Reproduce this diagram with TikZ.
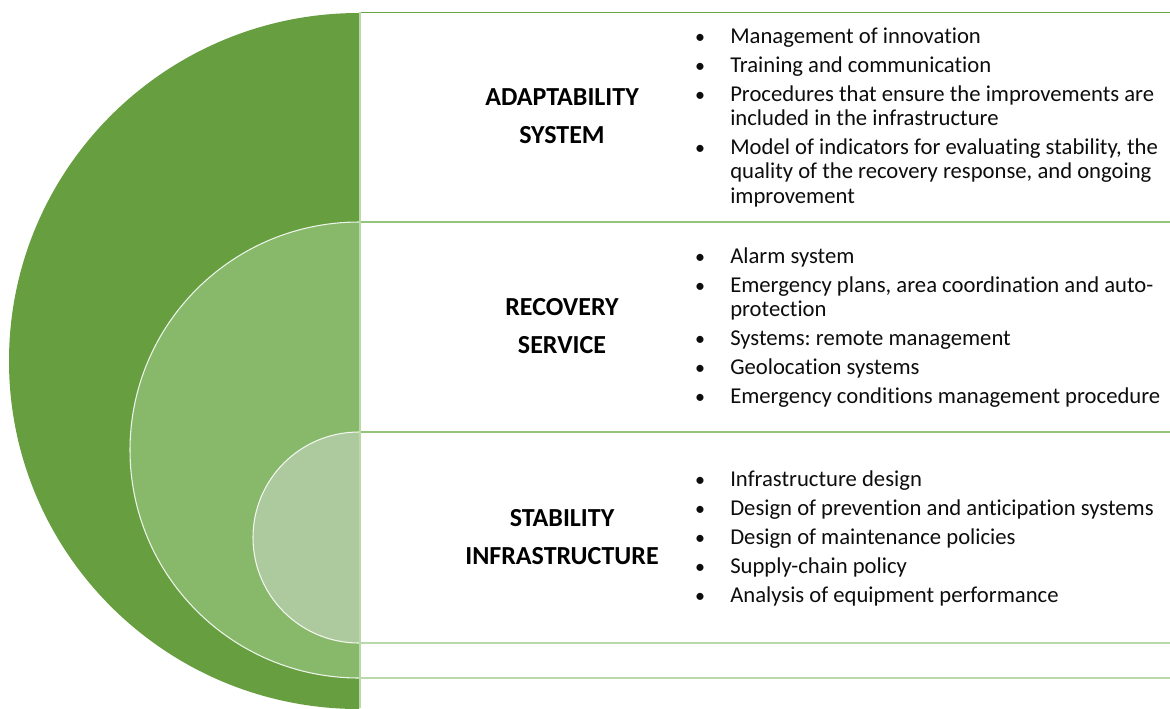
\documentclass[tikz,border=0pt]{standalone}
\usepackage{fontspec}
\setmainfont{Carlito}[Ligatures=CommonOff]
\frenchspacing
\definecolor{gOuter}{HTML}{669E40}
\definecolor{gMid}{HTML}{88B96B}
\definecolor{gSmall}{HTML}{ADC99E}
\definecolor{lTop}{HTML}{6CA545}
\definecolor{lMid}{HTML}{93C47A}
\definecolor{lLight}{HTML}{B9D9A8}
\definecolor{txt}{HTML}{0D0D0D}
\tikzset{
  itemtext/.style={anchor=base west, inner sep=0pt, font=\fontsize{17}{20}\selectfont\frenchspacing, text=txt},
  bul/.style={anchor=base, inner sep=0pt, font=\fontsize{15}{18}\selectfont, text=txt},
  head/.style={anchor=base, inner sep=0pt, font=\fontsize{19.5}{22}\selectfont\bfseries, text=black},
  sepline/.style={line width=1.4pt},
}
\begin{document}
\begin{tikzpicture}[x=0.75pt,y=-0.75pt]
\useasboundingbox (0,0) rectangle (1170,708);
\fill[white] (0,0) rectangle (1170,708);
% half circles
\begin{scope}
\clip (0,0) rectangle (359,708);
\fill[gOuter] (359,361) ellipse [x radius=350, y radius=348];
\filldraw[fill=gMid, draw=white!85!gMid, line width=0.8pt] (359,450) ellipse [x radius=229, y radius=228];
\filldraw[fill=gSmall, draw=white!85!gSmall, line width=0.8pt] (359,537.5) ellipse [x radius=106, y radius=105.5];
\end{scope}
% separator lines
\draw[sepline, lTop] (359,12.5) -- (1170,12.5);
\draw[sepline, lMid] (359,222) -- (1170,222);
\draw[sepline, lMid] (359,432) -- (1170,432);
\draw[sepline, lLight] (359,643) -- (1170,643);
\draw[sepline, lLight] (359,678) -- (1170,678);
\draw[line width=1.5pt, lLight] (359.5,12) -- (359.5,708);
% headers
\node[head] (h1a) at (562,105.5) {ADAPTABILITY};
\node[head] (h1b) at (562,143.5) {SYSTEM};
\node[head] (h2a) at (562,315.5) {RECOVERY};
\node[head] (h2b) at (562,353.5) {SERVICE};
\node[head] (h3a) at (562,526.5) {STABILITY};
\node[head] (h3b) at (562,564.5) {INFRASTRUCTURE};
% panel 1
\node[bul] (b11) at (700,43) {\textbullet};
\node[itemtext] (t11) at (730,43) {Management of innovation};
\node[bul] (b12) at (700,72) {\textbullet};
\node[itemtext] (t12) at (730,72) {Training and communication};
\node[bul] (b13) at (700,101) {\textbullet};
\node[itemtext] (t13) at (730,101) {Procedures that ensure the improvements are};
\node[itemtext] (t13b) at (730,125.5) {included in the infrastructure};
\node[bul] (b14) at (700,154) {\textbullet};
\node[itemtext] (t14) at (730,154) {Model of indicators for evaluating stability, the};
\node[itemtext] (t14b) at (730,178.5) {quality of the recovery response, and ongoing};
\node[itemtext] (t14c) at (730,203) {improvement};
% panel 2
\node[bul] (b21) at (700,263) {\textbullet};
\node[itemtext] (t21) at (730,263) {Alarm system};
\node[bul] (b22) at (700,292) {\textbullet};
\node[itemtext] (t22) at (730,292) {Emergency plans, area coordination and auto-};
\node[itemtext] (t22b) at (730,316.5) {protection};
\node[bul] (b23) at (700,345) {\textbullet};
\node[itemtext] (t23) at (730,345) {Systems: remote management};
\node[bul] (b24) at (700,374) {\textbullet};
\node[itemtext] (t24) at (730,374) {Geolocation systems};
\node[bul] (b25) at (700,403) {\textbullet};
\node[itemtext] (t25) at (730,403) {Emergency conditions management procedure};
% panel 3
\node[bul] (b31) at (700,486) {\textbullet};
\node[itemtext] (t31) at (730,486) {Infrastructure design};
\node[bul] (b32) at (700,515) {\textbullet};
\node[itemtext] (t32) at (730,515) {Design of prevention and anticipation systems};
\node[bul] (b33) at (700,544) {\textbullet};
\node[itemtext] (t33) at (730,544) {Design of maintenance policies};
\node[bul] (b34) at (700,573) {\textbullet};
\node[itemtext] (t34) at (730,573) {Supply-chain policy};
\node[bul] (b35) at (700,602) {\textbullet};
\node[itemtext] (t35) at (730,602) {Analysis of equipment performance};
\end{tikzpicture}
\end{document}
